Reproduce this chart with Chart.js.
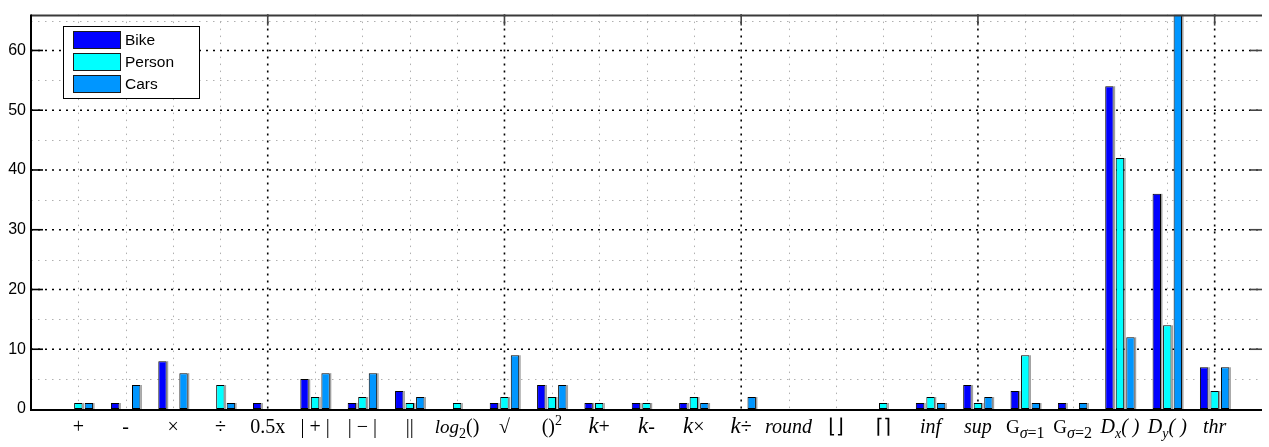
<!DOCTYPE html>
<html>
<head>
<meta charset="utf-8">
<script src="https://cdn.jsdelivr.net/npm/chart.js@4/dist/chart.umd.min.js"></script>
<style>
  html, body { margin: 0; padding: 0; background: #fff; }
  #wrap { width: 1269px; height: 447px; }
</style>
</head>
<body>
<div id="wrap"><canvas id="c" width="1269" height="447"></canvas></div>
<script>
// Operator labels; *..* marks italic, _{..} subscript, ^{..} superscript
const categories = [
  '+', '-', '×', '÷', '0.5x', '| + |', '| − |', '||', '*log*_{2}()', '√',
  '()^{2}', '*k*+', '*k*-', '*k*×', '*k*÷', '*round*', '⌊⌋', '⌈⌉', '*inf*', '*sup*',
  'G_{*σ*=1}', 'G_{*σ*=2}', '*D*_{*x*}*( )*', '*D*_{*y*}*( )*', '*thr*'
];
const bike   = [0, 1, 8, 0, 1, 5, 1, 3, 0, 1, 4, 1, 1, 1, 0, 0, 0, 0, 1, 4, 3, 1, 54, 36, 7];
const person = [1, 0, 0, 4, 0, 2, 2, 1, 1, 2, 2, 1, 1, 2, 0, 0, 0, 1, 2, 1, 9, 0, 42, 14, 3];
const cars   = [1, 4, 6, 1, 0, 6, 6, 2, 0, 9, 4, 0, 0, 1, 2, 0, 0, 0, 1, 2, 1, 1, 12, 66, 7];
const seriesNames = ['Bike', 'Person', 'Cars'];
const yTicks = [0, 10, 20, 30, 40, 50, 60];
const yMax = 66;
const xMax = categories.length + 1;

const colors = ['#0000ff', '#00ffff', '#0096ff'];

const toPoints = arr => arr.map((v, i) => ({ x: i + 1, y: v }));

function parseLabel(s) {
  const out = [];
  let italic = false, level = 0, buf = '';
  const push = () => { if (buf) { out.push({ text: buf, italic, level }); buf = ''; } };
  for (let i = 0; i < s.length; i++) {
    const ch = s[i];
    if (ch === '*') { push(); italic = !italic; }
    else if ((ch === '_' || ch === '^') && s[i + 1] === '{') { push(); level = ch === '_' ? -1 : 1; i++; }
    else if (ch === '}' && level) { push(); level = 0; }
    else buf += ch;
  }
  push();
  return out;
}

const SERIF = '"Liberation Serif", "Times New Roman", serif';
const SANS = '"Liberation Sans", Arial, sans-serif';

function segFont(seg, label) {
  let size = 20;
  const gauss = label.startsWith('G_');
  if (seg.level !== 0) size = gauss ? 16 : 14;
  else if (gauss) size = 19;
  else if (seg.italic && seg.text === 'k') size = 23;
  else if (seg.italic && seg.text === 'log') size = 19;
  let family = SERIF;
  if (/[⌊⌋⌈⌉]/.test(seg.text)) family = '"DejaVu Sans", sans-serif';
  return (seg.italic ? 'italic ' : '') + size + 'px ' + family;
}

const frame = {
  id: 'frame',
  beforeDatasetsDraw(chart) {
    const { ctx, chartArea: a, scales: { x, y } } = chart;
    const hline = py => { ctx.beginPath(); ctx.moveTo(a.left, py); ctx.lineTo(a.right, py); ctx.stroke(); };
    const vline = px => { ctx.beginPath(); ctx.moveTo(px, a.top); ctx.lineTo(px, a.bottom); ctx.stroke(); };
    ctx.save();
    // minor grid: half-decades and every category
    ctx.strokeStyle = '#b0b0b0';
    ctx.lineWidth = 1;
    ctx.setLineDash([1.5, 5.5]);
    for (let v = 5; v < yMax; v += 10) hline(Math.round(y.getPixelForValue(v)) + 0.5);
    for (let c = 1; c < xMax; c++) if (c % 5) vline(Math.round(x.getPixelForValue(c)) + 0.5);
    // major grid
    ctx.strokeStyle = '#000';
    ctx.lineWidth = 1.6;
    ctx.setLineDash([2, 5]);
    yTicks.forEach(v => { if (v > 0) hline(y.getPixelForValue(v)); });
    for (let c = 5; c < xMax; c += 5) vline(x.getPixelForValue(c));
    ctx.restore();
  },
  afterDatasetsDraw(chart) {
    const { ctx, chartArea: a, scales: { x, y } } = chart;
    ctx.save();
    // soft edge on the right side of each bar
    ctx.strokeStyle = 'rgba(120,120,120,0.7)';
    ctx.lineWidth = 1.5;
    chart.data.datasets.forEach((ds, di) => {
      chart.getDatasetMeta(di).data.forEach(bar => {
        const p = bar.getProps(['x', 'y', 'base', 'width'], true);
        if (p.base - p.y < 0.5) return;
        const rx = p.x + p.width / 2 + 0.75;
        ctx.beginPath();
        ctx.moveTo(rx, Math.max(p.y, a.top));
        ctx.lineTo(rx, p.base);
        ctx.stroke();
      });
    });
    // axis lines
    ctx.lineWidth = 2;
    ctx.strokeStyle = '#3a3a3a';
    ctx.beginPath(); ctx.moveTo(a.left, a.top + 1); ctx.lineTo(a.right, a.top + 1); ctx.stroke();
    ctx.strokeStyle = '#000';
    ctx.beginPath(); ctx.moveTo(a.left, a.top); ctx.lineTo(a.left, a.bottom + 1); ctx.lineTo(a.right, a.bottom + 1); ctx.stroke();
    // tick marks
    ctx.lineWidth = 1.6;
    yTicks.forEach(v => {
      if (v === 0) return;
      const py = y.getPixelForValue(v);
      ctx.strokeStyle = '#000';
      ctx.beginPath(); ctx.moveTo(a.left, py); ctx.lineTo(a.left + 12, py); ctx.stroke();
      ctx.strokeStyle = '#444';
      ctx.beginPath(); ctx.moveTo(a.right - 12, py); ctx.lineTo(a.right, py); ctx.stroke();
    });
    ctx.strokeStyle = '#444';
    for (let c = 5; c < xMax; c += 5) {
      const px = x.getPixelForValue(c);
      ctx.beginPath(); ctx.moveTo(px, a.top); ctx.lineTo(px, a.top + 11); ctx.stroke();
    }
    // legend box
    const lx = 63.5, ly = 26.5, lw = 136, lh = 72;
    ctx.fillStyle = '#fff';
    ctx.fillRect(lx, ly, lw, lh);
    ctx.lineWidth = 1;
    ctx.strokeStyle = '#000';
    ctx.strokeRect(lx, ly, lw, lh);
    ctx.font = '15.5px ' + SANS;
    ctx.textBaseline = 'middle';
    ctx.textAlign = 'left';
    chart.data.datasets.forEach((ds, i) => {
      const top = 31.5 + i * 22;
      ctx.fillStyle = ds.backgroundColor;
      ctx.fillRect(73.5, top, 47, 17);
      ctx.strokeStyle = '#1a1a1a';
      ctx.strokeRect(73.5, top, 47, 17);
      ctx.fillStyle = '#000';
      ctx.fillText(ds.label, 125, top + 9);
    });
    ctx.restore();
  },
  afterDraw(chart) {
    const { ctx, scales: { x } } = chart;
    ctx.save();
    ctx.fillStyle = '#000';
    ctx.textBaseline = 'alphabetic';
    ctx.textAlign = 'left';
    const baseY = 433;
    categories.forEach((lab, i) => {
      const segs = parseLabel(lab);
      let total = 0;
      segs.forEach(s => { ctx.font = segFont(s, lab); s.w = ctx.measureText(s.text).width; total += s.w; });
      let cx = x.getPixelForValue(i + 1) - total / 2;
      segs.forEach(s => {
        ctx.font = segFont(s, lab);
        const dy = s.level < 0 ? 5 : s.level > 0 ? -8 : 0;
        ctx.fillText(s.text, cx, baseY + dy);
        cx += s.w;
      });
    });
    ctx.restore();
  }
};

new Chart(document.getElementById('c'), {
  type: 'bar',
  data: {
    datasets: [bike, person, cars].map((arr, i) => ({
      label: seriesNames[i],
      data: toPoints(arr),
      backgroundColor: colors[i],
      borderColor: '#000',
      borderWidth: 1,
      borderSkipped: false
    }))
  },
  options: {
    responsive: false,
    animation: false,
    events: [],
    layout: { padding: { top: 5, right: 7, bottom: 38, left: 0 } },
    datasets: { bar: { categoryPercentage: 0.667, barPercentage: 0.8 } },
    plugins: { legend: { display: false }, tooltip: { enabled: false } },
    scales: {
      x: { type: 'linear', min: 0, max: xMax, offset: false, display: false, ticks: { stepSize: 1 } },
      y: {
        min: 0, max: yMax,
        afterFit(s) { s.width = 31; },
        grid: { display: false, drawTicks: false },
        border: { display: false },
        ticks: {
          stepSize: 10, padding: 5, color: '#000',
          font: { family: SANS, size: 16 },
          callback: v => (yTicks.includes(v) ? v : '')
        }
      }
    }
  },
  plugins: [frame]
});
</script>
</body>
</html>
